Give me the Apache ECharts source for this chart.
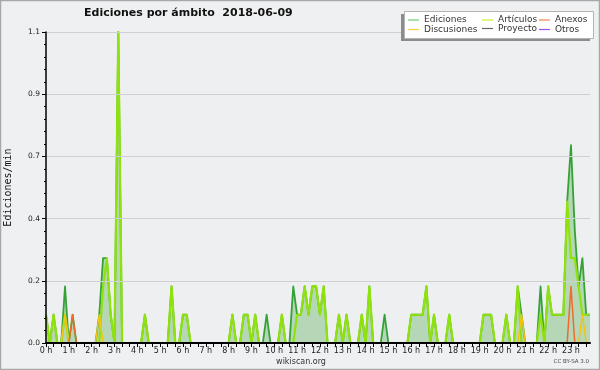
<!DOCTYPE html>
<html><head><meta charset="utf-8">
<script src="https://cdn.jsdelivr.net/npm/echarts@6/dist/echarts.min.js"></script>
<style>html,body{margin:0;padding:0;background:#eff0f1}#c{width:600px;height:370px}</style>
</head><body><div id="c"></div>
<script>
// 10-minute bins, 00:00 .. 23:50 (144 points), values in edits/min
const hourLabels = ['0 h','1 h','2 h','3 h','4 h','5 h','6 h','7 h','8 h','9 h','10 h','11 h',
  '12 h','13 h','14 h','15 h','16 h','17 h','18 h','19 h','20 h','21 h','22 h','23 h'];
const ediciones = [
  0.1,0,0.1,0,0,0.2,0,0.1,0,0,0,0,
  0,0,0.1,0.3,0.3,0.1,0,1.1,0,0,0,0,
  0,0,0.1,0,0,0,0,0,0,0.2,0,0,
  0.1,0.1,0,0,0,0,0,0,0,0,0,0,
  0,0.1,0,0,0.1,0.1,0,0.1,0,0,0.1,0,
  0,0,0.1,0,0,0.2,0.1,0.1,0.2,0.1,0.2,0.2,
  0.1,0.2,0,0,0,0.1,0,0.1,0,0,0,0.1,
  0,0.2,0,0,0,0.1,0,0,0,0,0,0,
  0.1,0.1,0.1,0.1,0.2,0,0.1,0,0,0,0.1,0,
  0,0,0,0,0,0,0,0.1,0.1,0.1,0,0,
  0,0.1,0,0,0.2,0.1,0,0,0,0,0.2,0,
  0.2,0.1,0.1,0.1,0.1,0.5,0.7,0.4,0.2,0.3,0.1,0.1
];
const articulos = [
  0.1,0,0.1,0,0,0.1,0,0,0,0,0,0,
  0,0,0,0.2,0.3,0.1,0,1.1,0,0,0,0,
  0,0,0.1,0,0,0,0,0,0,0.2,0,0,
  0.1,0.1,0,0,0,0,0,0,0,0,0,0,
  0,0.1,0,0,0.1,0.1,0,0.1,0,0,0,0,
  0,0,0.1,0,0,0,0.1,0.1,0.2,0.1,0.2,0.2,
  0.1,0.2,0,0,0,0.1,0,0.1,0,0,0,0.1,
  0,0.2,0,0,0,0,0,0,0,0,0,0,
  0.1,0.1,0.1,0.1,0.2,0,0.1,0,0,0,0.1,0,
  0,0,0,0,0,0,0,0.1,0.1,0.1,0,0,
  0,0.1,0,0,0.2,0,0,0,0,0,0.1,0,
  0.2,0.1,0.1,0.1,0.1,0.5,0.3,0.3,0.2,0.1,0.1,0.1
];
const anexos = [
  0,0,0,0,0,0,0,0.1,0,0,0,0,
  0,0,0,0,0,0,0,0,0,0,0,0,
  0,0,0,0,0,0,0,0,0,0,0,0,
  0,0,0,0,0,0,0,0,0,0,0,0,
  0,0,0,0,0,0,0,0,0,0,0,0,
  0,0,0,0,0,0,0,0,0,0,0,0,
  0,0,0,0,0,0,0,0,0,0,0,0,
  0,0,0,0,0,0,0,0,0,0,0,0,
  0,0,0,0,0,0,0,0,0,0,0,0,
  0,0,0,0,0,0,0,0,0,0,0,0,
  0,0,0,0,0,0,0,0,0,0,0,0,
  0,0,0,0,0,0,0.2,0,0,0,0,0
];
const discusiones = [
  0,0,0,0,0,0.1,0,0,0,0,0,0,
  0,0,0.1,0,0,0,0,0,0,0,0,0,
  0,0,0,0,0,0,0,0,0,0,0,0,
  0,0,0,0,0,0,0,0,0,0,0,0,
  0,0,0,0,0,0,0,0,0,0,0,0,
  0,0,0,0,0,0,0,0,0,0,0,0,
  0,0,0,0,0,0,0,0,0,0,0,0,
  0,0,0,0,0,0,0,0,0,0,0,0,
  0,0,0,0,0,0,0,0,0,0,0,0,
  0,0,0,0,0,0,0,0,0,0,0,0,
  0,0,0,0,0,0.1,0,0,0,0,0,0,
  0,0,0,0,0,0,0,0,0,0.1,0,0
];
const proyecto = new Array(144).fill(0);
const otros = new Array(144).fill(0);

const colors = {Ediciones:'#35a235', 'Artículos':'#90e20c', Anexos:'#f06a2a', Discusiones:'#f3c414', Proyecto:'#555555', Otros:'#9a3cf5'};
const legendColors = {Ediciones:'#6fcf6f', 'Artículos':'#c8f03a', Anexos:'#f5844a', Discusiones:'#f8d040', Proyecto:'#666666', Otros:'#a050f8'};

const cats = ediciones.map((_, i) => i);
const FONT = "'DejaVu Sans', sans-serif";

function mkLine(name, data, width, z, extra) {
  return Object.assign({
    name, type: 'line', data, symbol: 'none', z,
    lineStyle: { color: colors[name], width, join: 'round' },
    itemStyle: { color: colors[name] },
    animation: false, silent: true
  }, extra || {});
}

// legend drawn with graphic elements
const legendPos = [
  {name:'Ediciones', x:408, y:20}, {name:'Artículos', x:482, y:20}, {name:'Anexos', x:539, y:20},
  {name:'Discusiones', x:408, y:29.5}, {name:'Proyecto', x:482, y:28.5}, {name:'Otros', x:539, y:29.5}
];
const legendEls = [
  {type:'rect', shape:{x:401, y:14, width:189, height:27}, style:{fill:'#8c8c8c'}, z:50},
  {type:'rect', shape:{x:404.5, y:11.5, width:189, height:27}, style:{fill:'#ffffff', stroke:'#b4b4b4', lineWidth:1}, z:51}
];
legendPos.forEach(p => {
  legendEls.push({type:'line', shape:{x1:p.x, y1:p.y, x2:p.x+11, y2:p.y}, style:{stroke:legendColors[p.name], lineWidth:1.2}, z:52});
  legendEls.push({type:'text', x:p.x+16, y:p.y, style:{text:p.name, fill:'#333', font:"9px "+FONT, textVerticalAlign:'middle', textAlign:'left'}, z:52});
});

const chart = echarts.init(document.getElementById('c'), null, {renderer:'canvas'});
chart.setOption({
  backgroundColor: '#eff0f1',
  animation: false,
  title: {
    text: 'Ediciones por ámbito  2018-06-09', left: 84, top: 8, padding: 0,
    textStyle: {fontSize: 11, fontWeight: 'bold', fontFamily: FONT, color: '#111'}
  },
  grid: {left: 46, top: 32, width: 544, height: 311, show: true, backgroundColor: '#eeeff1', borderWidth: 0,
         containLabel: false, outerBoundsMode: 'none'},
  xAxis: {
    type: 'category', data: cats, boundaryGap: false, z: 20,
    axisLine: {lineStyle: {color: '#000', width: 2}},
    axisTick: {show: true, length: 4, interval: (i) => i % 2 === 0, lineStyle: {color: '#000'}},
    axisLabel: {
      interval: (i) => i % 6 === 0, margin: 4, fontSize: 8, fontFamily: FONT, color: '#222',
      formatter: (v, i) => hourLabels[Math.floor(i / 6)]
    },
    splitLine: {show: false}
  },
  yAxis: {
    type: 'value', min: 0, max: 1.1, interval: 0.22, z: 20,
    name: 'Ediciones/min', nameLocation: 'middle', nameGap: 33, nameRotate: 90,
    nameTextStyle: {fontSize: 10, fontFamily: "'DejaVu Sans Mono', monospace", color: '#111'},
    axisLine: {show: true, lineStyle: {color: '#000', width: 1.5}},
    axisTick: {show: true, length: 4, lineStyle: {color: '#000'}},
    minorTick: {show: true, splitNumber: 5, length: 2, lineStyle: {color: '#000'}},
    axisLabel: {margin: 6, fontSize: 7.5, fontFamily: FONT, color: '#222', formatter: (v) => v.toFixed(1)},
    splitLine: {show: true, lineStyle: {color: '#cfd0d2', width: 1}}
  },
  series: [
    mkLine('Proyecto', proyecto, 1, 1),
    mkLine('Otros', otros, 1, 1),
    mkLine('Ediciones', ediciones, 1.8, 2, {areaStyle: {color: 'rgba(70,165,70,0.48)'}}),
    mkLine('Artículos', articulos, 2.2, 3),
    mkLine('Discusiones', discusiones, 1.5, 4),
    mkLine('Anexos', anexos, 1.5, 5)
  ],
  graphic: [
    {type:'rect', shape:{x:0.5, y:0.5, width:599, height:369}, style:{fill:null, stroke:'#a8a8a8', lineWidth:1.5}, z:100},
    {type:'text', x:301, y:361.5, style:{text:'wikiscan.org', fill:'#333', font:"8px "+FONT, textAlign:'center', textVerticalAlign:'middle'}, z:60},
    {type:'text', x:589, y:362, style:{text:'CC BY-SA 3.0', fill:'#444', font:"5.5px "+FONT, textAlign:'right', textVerticalAlign:'middle'}, z:60}
  ].concat(legendEls)
});
</script></body></html>
